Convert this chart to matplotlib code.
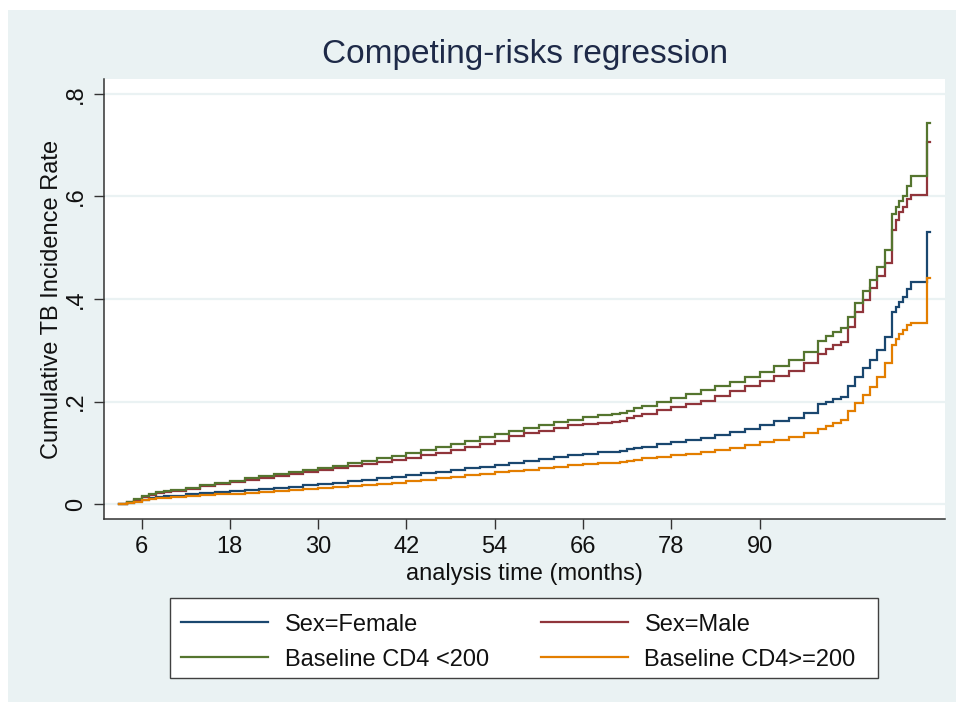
import matplotlib
matplotlib.use("Agg")
import matplotlib.pyplot as plt
from matplotlib.patches import Rectangle

# ---------------- data ----------------
months = [3, 4, 5, 6, 7, 8, 9, 10, 12, 14, 16, 18, 20, 22, 24, 26, 28, 30, 32, 34, 36,
          38, 40, 42, 44, 46, 48, 50, 52, 54, 56, 58, 60, 62, 64, 66, 68, 70, 71, 72,
          73, 74, 76, 78, 80, 82, 84, 86, 88, 90, 92, 94, 96, 98, 99, 100, 101, 102,
          103, 104, 105, 106, 107, 108, 108.5, 109, 109.5, 110, 110.6, 112.7, 113.2]

cif_female = [0, 0.003, 0.006, 0.009, 0.011, 0.013, 0.015, 0.016, 0.019, 0.021, 0.023,
              0.025, 0.027, 0.029, 0.032, 0.034, 0.037, 0.040, 0.042, 0.045, 0.047,
              0.050, 0.053, 0.057, 0.060, 0.063, 0.066, 0.070, 0.073, 0.077, 0.080,
              0.084, 0.088, 0.092, 0.095, 0.098, 0.101, 0.102, 0.104, 0.107, 0.110,
              0.112, 0.117, 0.121, 0.125, 0.129, 0.135, 0.141, 0.147, 0.155, 0.162,
              0.168, 0.178, 0.195, 0.200, 0.205, 0.209, 0.230, 0.248, 0.265, 0.281,
              0.300, 0.325, 0.375, 0.385, 0.395, 0.404, 0.420, 0.433, 0.530, 0.530]

cif_male = [0, 0.005, 0.009, 0.014, 0.018, 0.021, 0.024, 0.026, 0.030, 0.035, 0.039,
            0.043, 0.047, 0.051, 0.054, 0.058, 0.062, 0.066, 0.070, 0.074, 0.078,
            0.082, 0.086, 0.090, 0.095, 0.100, 0.106, 0.112, 0.118, 0.124, 0.132,
            0.138, 0.143, 0.149, 0.154, 0.157, 0.159, 0.161, 0.163, 0.167, 0.172,
            0.176, 0.183, 0.190, 0.196, 0.202, 0.211, 0.220, 0.230, 0.240, 0.250,
            0.260, 0.275, 0.292, 0.302, 0.310, 0.317, 0.345, 0.375, 0.398, 0.421,
            0.445, 0.470, 0.535, 0.555, 0.570, 0.580, 0.595, 0.603, 0.707, 0.707]

cif_cd4_low = [0, 0.005, 0.010, 0.015, 0.020, 0.023, 0.026, 0.028, 0.032, 0.037, 0.042,
               0.046, 0.050, 0.054, 0.058, 0.062, 0.066, 0.071, 0.075, 0.080, 0.084,
               0.089, 0.094, 0.099, 0.106, 0.112, 0.118, 0.124, 0.130, 0.136, 0.142,
               0.148, 0.154, 0.160, 0.165, 0.170, 0.173, 0.175, 0.177, 0.181, 0.188,
               0.192, 0.199, 0.206, 0.214, 0.222, 0.230, 0.238, 0.248, 0.258, 0.270,
               0.282, 0.297, 0.318, 0.328, 0.335, 0.343, 0.365, 0.392, 0.415, 0.437,
               0.462, 0.495, 0.565, 0.580, 0.592, 0.600, 0.620, 0.639, 0.743, 0.743]

cif_cd4_high = [0, 0.003, 0.005, 0.008, 0.010, 0.011, 0.012, 0.013, 0.015, 0.017, 0.019,
                0.020, 0.022, 0.024, 0.026, 0.028, 0.030, 0.032, 0.034, 0.036, 0.038,
                0.040, 0.042, 0.045, 0.047, 0.050, 0.053, 0.056, 0.059, 0.062, 0.064,
                0.067, 0.070, 0.073, 0.076, 0.078, 0.080, 0.081, 0.083, 0.085, 0.087,
                0.089, 0.092, 0.095, 0.098, 0.101, 0.106, 0.110, 0.115, 0.121, 0.126,
                0.131, 0.138, 0.147, 0.152, 0.158, 0.164, 0.182, 0.198, 0.213, 0.229,
                0.248, 0.275, 0.310, 0.322, 0.332, 0.340, 0.350, 0.354, 0.440, 0.440]

series_labels = ["Sex=Female", "Sex=Male", "Baseline CD4 <200", "Baseline CD4>=200"]
x_ticks = [6, 18, 30, 42, 54, 66, 78, 90]
y_ticks = [0, 0.2, 0.4, 0.6, 0.8]
y_tick_labels = ["0", ".2", ".4", ".6", ".8"]

title = "Competing-risks regression"
x_label = "analysis time (months)"
y_label = "Cumulative TB Incidence Rate"

# ---------------- style ----------------
plt.rcParams["font.family"] = ["Liberation Sans", "DejaVu Sans"]
BG = "#EAF2F3"
colors = ["#1A476F", "#90353B", "#55752F", "#E37E00"]

W, H = 956, 702
fig = plt.figure(figsize=(W / 100, H / 100), dpi=100)
fig.patch.set_facecolor("white")
fig.patches.append(Rectangle((8 / W, 0), 1 - 8 / W, 1 - 10 / H,
                             transform=fig.transFigure, facecolor=BG,
                             edgecolor="none", zorder=-10))
# legend box
fig.patches.append(Rectangle((170 / W, 1 - 678 / H), (878 - 170) / W, (678 - 598) / H,
                             transform=fig.transFigure, facecolor="white",
                             edgecolor="#404040", lw=1.0, zorder=-5))

ax = fig.add_axes([104 / W, 1 - 519 / H, (945 - 104) / W, (519 - 79) / H])
ax.set_zorder(1)
ax.set_facecolor("white")

series = [cif_female, cif_male, cif_cd4_low, cif_cd4_high]
handles = []
for vals, lab, col in zip(series, series_labels, colors):
    h, = ax.plot(months, vals, drawstyle="steps-post", color=col, lw=1.6,
                 label=lab, solid_joinstyle="miter", zorder=3)
    handles.append(h)

ax.set_xlim(0.9, 115.2)
ax.set_ylim(-0.029, 0.829)
ax.set_xticks(x_ticks)
ax.set_xticklabels([str(t) for t in x_ticks])
ax.set_yticks(y_ticks)
ax.set_yticklabels(y_tick_labels, rotation=90, va="center")

ax.grid(axis="y", color=BG, lw=1.6, zorder=1)
ax.set_axisbelow(True)
for s in ["top", "right"]:
    ax.spines[s].set_visible(False)
for s in ["left", "bottom"]:
    ax.spines[s].set_color("#333333")
    ax.spines[s].set_linewidth(1.1)
ax.tick_params(axis="both", direction="out", length=7, width=1.0,
               color="#333333", labelsize=17, labelcolor="#111111", pad=5)

ax.set_xlabel(x_label, fontsize=17, color="#111111", labelpad=3.5)
ax.set_ylabel(y_label, fontsize=17, color="#111111", labelpad=2)

fig.text(525 / W, 1 - 55 / H, title, fontsize=24, color="#1E2A48",
         ha="center", va="center")

order = [0, 2, 1, 3]
leg = fig.legend([handles[i] for i in order], [series_labels[i] for i in order],
                 ncol=2, loc="upper left",
                 bbox_to_anchor=(170 / W, 1 - 603 / H),
                 fontsize=17, frameon=False,
                 handlelength=3.7, handletextpad=0.7, borderpad=0.45,
                 labelspacing=0.55, columnspacing=2.2, borderaxespad=0)
for t in leg.get_texts():
    t.set_color("#111111")

fig.savefig("out.png", dpi=100, facecolor=fig.get_facecolor())
